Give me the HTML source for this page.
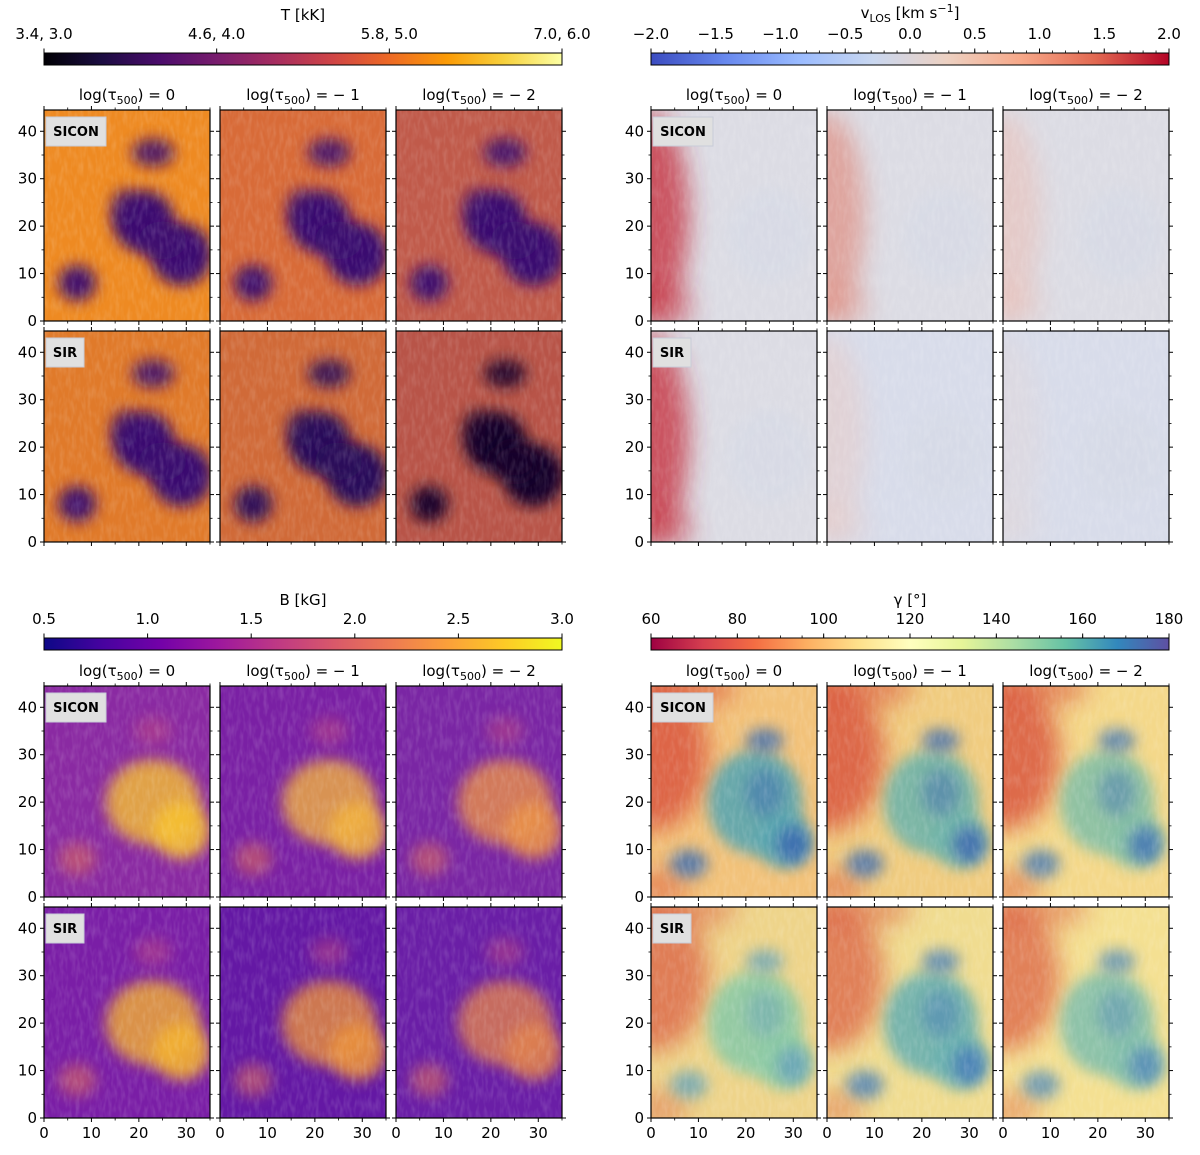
<!DOCTYPE html>
<html><head><meta charset="utf-8"><style>
html,body{margin:0;padding:0;background:#fff;}
svg{display:block;font-family:"DejaVu Sans","Liberation Sans",sans-serif;}
</style></head><body>
<svg id="fig" width="1200" height="1155" viewBox="0 0 1200 1155" xmlns="http://www.w3.org/2000/svg">
<defs>
<filter id="blur" x="-50%" y="-50%" width="200%" height="200%"><feGaussianBlur stdDeviation="7"/></filter>
<filter id="blur2" x="-50%" y="-50%" width="200%" height="200%"><feGaussianBlur stdDeviation="12"/></filter>
<filter id="tex" x="0" y="0" width="100%" height="100%"><feTurbulence type="fractalNoise" baseFrequency="0.25 0.08" numOctaves="2" seed="3"/><feColorMatrix type="matrix" values="0 0 0 0 1  0 0 0 0 1  0 0 0 0 1  0 0 0 0.9 -0.35"/></filter>
</defs>
</svg>
<script>
const NS='http://www.w3.org/2000/svg';
const svg=document.getElementById('fig');
// ---- data ----
const xTicks=[0,10,20,30];
const yTicks=[0,10,20,30,40];
const xMax=35, yMax=44.5;
const colTitles=['0','\u2212 1','\u2212 2'];
const rowLabels=['SICON','SIR'];
const tTickLabels=['3.4, 3.0','4.6, 4.0','5.8, 5.0','7.0, 6.0'];
const tTickVals=[0,1,2,3];
const vTickVals=[-2,-1.5,-1,-0.5,0,0.5,1,1.5,2];
const bTickVals=[0.5,1.0,1.5,2.0,2.5,3.0];
const gTickVals=[60,80,100,120,140,160,180];
const infernoStops=['#000004','#1b0c41','#4a0c6b','#781c6d','#a52c60','#cf4446','#ed6925','#fb9b06','#f7d13d','#fcffa4'];
const coolStops=['#3b4cc0','#6788ee','#9abbff','#c9d7f0','#edd1c2','#f7a889','#e26952','#b40426'];
const plasmaStops=['#0d0887','#46039f','#7201a8','#9c179e','#bd3786','#d8576b','#ed7953','#fb9f3a','#fdca26','#f0f921'];
const spectralStops=['#9e0142','#d53e4f','#f46d43','#fdae61','#fee08b','#ffffbf','#e6f598','#abdda4','#66c2a5','#3288bd','#5e4fa2'];

function el(tag,attrs,parent){const e=document.createElementNS(NS,tag);for(const k in attrs)e.setAttribute(k,attrs[k]);(parent||svg).appendChild(e);return e;}
let gid=0;
function gradient(stops){const id='g'+(gid++);const defs=svg.querySelector('defs');const g=el('linearGradient',{id:id,x1:0,x2:1,y1:0,y2:0},defs);stops.forEach((c,i)=>el('stop',{offset:i/(stops.length-1),'stop-color':c},g));return id;}

function colorbar(x0,x1,y0,stops,vals,labels,vmin,vmax,name,minorStep){
  const g=el('g',{});
  
  
  const id=gradient(stops);
  el('rect',{x:x0,y:y0,width:x1-x0,height:12,fill:'url(#'+id+')',stroke:'#000','stroke-width':1},g);
  const sx=v=>x0+(v-vmin)/(vmax-vmin)*(x1-x0);
  if(minorStep){for(let v=vmin;v<=vmax+1e-9;v+=minorStep){el('line',{x1:sx(v),x2:sx(v),y1:y0,y2:y0-2.5,stroke:'#000','stroke-width':0.8},g);}}
  vals.forEach((v,i)=>{
    el('line',{x1:sx(v),x2:sx(v),y1:y0,y2:y0-4.5,stroke:'#000','stroke-width':1},g);
    const t=el('text',{x:sx(v),y:y0-14,'text-anchor':'middle','font-size':15},g);
    t.textContent=labels[i];
  });
  return g;
}
function titleText(x,y,parts,name){
  const t=el('text',{x:x,y:y,'text-anchor':'middle','font-size':15});
  
  
  parts.forEach(p=>{const s=el('tspan',p.sub?{'font-size':11,dy:4}:(p.up?{'font-size':11,dy:-6}:{dy:p.dy||0}),t);s.textContent=p.t;});
  return t;
}
colorbar(44,562,53,infernoStops,tTickVals,tTickLabels,0,3,'temperature-colorbar');
titleText(303,20,[{t:'T [kK]'}],'temperature-colorbar-title');
colorbar(651,1169,53,coolStops,vTickVals,vTickVals.map(v=>(v<0?'\u2212':'')+Math.abs(v).toFixed(1)),-2,2,'velocity-colorbar',0.1);
titleText(910,18,[{t:'v'},{t:'LOS',sub:true},{t:' [km s',dy:-4},{t:'\u22121',up:true},{t:']',dy:6}],'velocity-colorbar-title');
colorbar(44,562,638,plasmaStops,bTickVals,bTickVals.map(v=>v.toFixed(1)),0.5,3,'field-strength-colorbar');
titleText(303,605,[{t:'B [kG]'}],'field-strength-colorbar-title');
colorbar(651,1169,638,spectralStops,gTickVals,gTickVals.map(String),60,180,'inclination-colorbar',5);
titleText(910,605,[{t:'\u03b3 [\u00b0]'}],'inclination-colorbar-title');

const sc=166/xMax;
function blobsFor(q,row,col){
  if(q==='T'){
    const base=[['#ee8a22','#d86b38','#c05a4a'],['#e07a2a','#d06a38','#b85448']][row][col];
    const um=[['#3c1070','#3a1070','#3a1070'],['#3a1070','#2a0a5a','#12062c']][row][col];
    return {base:base,blobs:[[21,21,6.5,6.5,um,1],[29,14,6.5,6.5,um,1],[25,17,5,4,um,0.9],[7,8,4,3.8,um,0.95],[23,35.5,4.5,3,um,0.85],[17,24,3,4,um,0.6]]};
  }
  if(q==='V'){
    const red=[['#c42535',0.75,'#e08070',0.6,'#f0b0a0',0.4],['#c42535',0.75,'#f0c0b0',0.35,'#e8d0c8',0.25]][row];
    return {base:row===1&&col>0?'#d8dcea':'#dcdce4',edge:[red[col*2],red[col*2+1]],blobs:[[25,18,9,10,'#d6dae6',0.6]]};
  }
  if(q==='B'){
    const base=[['#8a2aa2','#7a20a4','#7a26a4'],['#7a1ea6','#6418a4','#6a1ea6']][row][col];
    const c=[['#f6c030','#f0b040','#e89048'],['#f2b030','#e8903e','#de8050']][row][col];
    return {base:base,blobs:[[23,20,10,9,c,0.8],[29,14,6,6,c,0.9],[7,8,4,3.5,'#d86a60',0.6],[23,35,4,3,'#c04a80',0.5]]};
  }
  const base=[['#f2c27a','#f0cc80','#f4d88a'],['#eed48a','#f0dc90','#f4e092']][row][col];
  const cen=[['#5aa6b0','#70b4aa','#86c0a6'],['#8ccaa6','#6ab0b0','#84c0ac']][row][col];
  const blu=[['#3a6cb0','#4270b0','#4a7cb4'],['#6aa6b8','#4a80b8','#5a90b8']][row][col];
  return {base:base,edge:['#d8503a',row===0?0.8:0.65],blobs:[[22,20,10,11,cen,0.9],[28,12,6,6,cen,0.9],[8,7,4,3,blu,0.8],[30,11,3.5,4,blu,0.9],[24,33,4,2.5,blu,0.8],[24,22,4,5,blu,0.5]]};
}
const quads=[{q:'T',x:44,y:110},{q:'V',x:651,y:110},{q:'B',x:44,y:686},{q:'G',x:651,y:686}];
const qnames={T:'temperature',V:'velocity',B:'field-strength',G:'inclination'};
let cid=0;
quads.forEach(Q=>{
  colTitles.forEach((ct,c)=>{
    titleText(Q.x+c*176+83,Q.y-10,[{t:'log(\u03c4'},{t:'500',sub:true},{t:') = '+ct,dy:-4}],qnames[Q.q]+'-column-title-'+(c+1));
  });
  for(let r=0;r<2;r++){for(let c=0;c<3;c++){
    const px=Q.x+c*176, py=Q.y+r*221, W=166, H=211;
    const g=el('g',{});
    
    
    const clip='cp'+(cid++);
    const cp=el('clipPath',{id:clip},svg.querySelector('defs'));
    el('rect',{x:px,y:py,width:W,height:H},cp);
    const inner=el('g',{'clip-path':'url(#'+clip+')'},g);
    const P=blobsFor(Q.q,r,c);
    el('rect',{x:px,y:py,width:W,height:H,fill:P.base},inner);
    const X=v=>px+v*sc, Y=v=>py+H-v*sc;
    if(P.edge){
      if(Q.q==='V'){
        el('ellipse',{cx:X(0),cy:Y(22),rx:8*sc,ry:22*sc,fill:P.edge[0],opacity:P.edge[1],filter:'url(#blur2)'},inner);
        el('ellipse',{cx:X(3),cy:Y(3),rx:6*sc,ry:5*sc,fill:P.edge[0],opacity:P.edge[1]*0.6,filter:'url(#blur2)'},inner);
      }else{
        el('ellipse',{cx:X(0),cy:Y(30),rx:12*sc,ry:16*sc,fill:P.edge[0],opacity:P.edge[1],filter:'url(#blur2)'},inner);
        el('ellipse',{cx:X(8),cy:Y(44),rx:10*sc,ry:4*sc,fill:P.edge[0],opacity:P.edge[1]*0.7,filter:'url(#blur2)'},inner);
        el('ellipse',{cx:X(2),cy:Y(2),rx:6*sc,ry:4*sc,fill:P.edge[0],opacity:P.edge[1]*0.6,filter:'url(#blur2)'},inner);
      }
    }
    P.blobs.forEach(b=>el('ellipse',{cx:X(b[0]),cy:Y(b[1]),rx:b[2]*sc,ry:b[3]*sc,fill:b[4],opacity:b[5],filter:'url(#blur)'},inner));
    el('rect',{x:px,y:py,width:W,height:H,filter:'url(#tex)',opacity:0.3},inner);
    el('rect',{x:px,y:py,width:W,height:H,fill:'none',stroke:'#000','stroke-width':1.2},g);
    yTicks.forEach(v=>{
      el('line',{x1:px,x2:px-4,y1:Y(v),y2:Y(v),stroke:'#000','stroke-width':1},g);
      el('line',{x1:px+W,x2:px+W+4,y1:Y(v),y2:Y(v),stroke:'#000','stroke-width':1},g);
      if(v+5<yMax){el('line',{x1:px,x2:px-2.5,y1:Y(v+5),y2:Y(v+5),stroke:'#000','stroke-width':0.8},g);el('line',{x1:px+W,x2:px+W+2.5,y1:Y(v+5),y2:Y(v+5),stroke:'#000','stroke-width':0.8},g);}
      if(c===0){const t=el('text',{x:px-7,y:Y(v)+5,'text-anchor':'end','font-size':15},g);t.textContent=v;}
    });
    xTicks.forEach(v=>{
      el('line',{x1:X(v),x2:X(v),y1:py+H,y2:py+H+4,stroke:'#000','stroke-width':1},g);
      el('line',{x1:X(v),x2:X(v),y1:py,y2:py-4,stroke:'#000','stroke-width':1},g);
      if(v+5<=xMax){el('line',{x1:X(v+5),x2:X(v+5),y1:py+H,y2:py+H+2.5,stroke:'#000','stroke-width':0.8},g);el('line',{x1:X(v+5),x2:X(v+5),y1:py,y2:py-2.5,stroke:'#000','stroke-width':0.8},g);}
      if(r===1&&Q.y>600){const t=el('text',{x:X(v),y:py+H+20,'text-anchor':'middle','font-size':15},g);t.textContent=v;}
    });
    if(c===0){
      const lb=el('g',{},g);
      
      
      const bw=rowLabels[r]==='SICON'?60:38;
      el('rect',{x:px+2,y:py+7,width:bw,height:29,fill:'#e0e0e0',stroke:'#c8ccd8','stroke-width':1},lb);
      const t=el('text',{x:px+2+bw/2,y:py+26,'text-anchor':'middle','font-size':13,'font-weight':'bold'},lb);
      t.textContent=rowLabels[r];
    }
  }}
});
</script>
</body></html>
